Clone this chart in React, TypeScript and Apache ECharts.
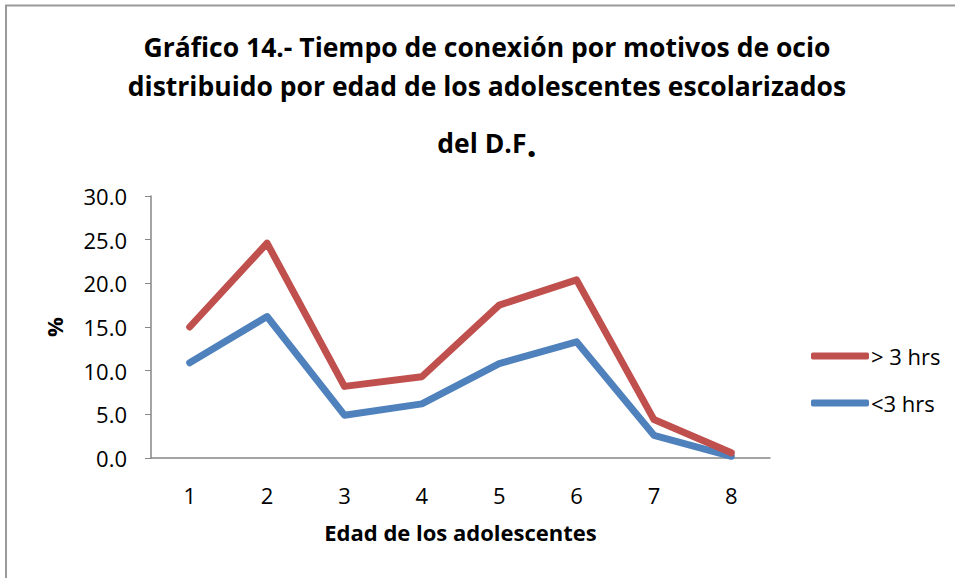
import React, { useEffect, useRef } from "react";
import * as echarts from "echarts";

const categories = ["1", "2", "3", "4", "5", "6", "7", "8"];
const seriesNames = ["> 3 hrs", "<3 hrs"];
const moreThan3 = [15.0, 24.6, 8.2, 9.3, 17.5, 20.4, 4.4, 0.6];
const lessThan3 = [10.9, 16.2, 4.9, 6.2, 10.8, 13.3, 2.6, 0.2];
const titleLines = [
  "Gráfico 14.- Tiempo de conexión por motivos de ocio",
  "distribuido por edad de los adolescentes escolarizados",
];
const xAxisName = "Edad de los adolescentes";
const yAxisName = "%";

const FONT = "'Open Sans', sans-serif";
const RED = "#C0504D";
const BLUE = "#4F81BD";
const AXIS = "#868686";
const TITLE_SIZE = 26.5;
const TICK_SIZE = 22;
const NAME_SIZE = 22;

export default function App() {
  const ref = useRef<HTMLDivElement>(null);
  useEffect(() => {
    if (!ref.current) return;
    const chart = echarts.init(ref.current, undefined, { renderer: "svg" });
    chart.setOption({
      animation: false,
      backgroundColor: "#ffffff",
      textStyle: { fontFamily: FONT },
      graphic: [
        {
          type: "rect",
          shape: { x: 6, y: 5.5, width: 1200, height: 800 },
          style: { fill: "none", stroke: "#9a9a9a", lineWidth: 2 },
          silent: true,
        },
        {
          type: "text",
          x: 487,
          y: 47,
          style: {
            text: titleLines[0],
            fontFamily: FONT,
            fontWeight: "bold",
            fontSize: TITLE_SIZE,
            fill: "#000",
            align: "center",
            verticalAlign: "middle",
          },
        },
        {
          type: "text",
          x: 487,
          y: 86,
          style: {
            text: titleLines[1],
            fontFamily: FONT,
            fontWeight: "bold",
            fontSize: TITLE_SIZE,
            fill: "#000",
            align: "center",
            verticalAlign: "middle",
          },
        },
        {
          type: "text",
          x: 487,
          y: 143,
          style: {
            text: "{a|del D.F}{b|.}",
            fontFamily: FONT,
            align: "center",
            verticalAlign: "middle",
            rich: {
              a: { fontFamily: FONT, fontWeight: "bold", fontSize: TITLE_SIZE, fill: "#000" },
              b: { fontFamily: FONT, fontWeight: "bold", fontSize: 36, fill: "#000" },
            },
          },
        },
      ],
      legend: {
        orient: "vertical",
        left: 806,
        top: 339,
        itemWidth: 58,
        itemHeight: 7,
        itemGap: 23,
        icon: "roundRect",
        textStyle: { fontFamily: FONT, fontSize: NAME_SIZE, color: "#000", padding: [0, 0, 0, -3], lineHeight: 24 },
        data: seriesNames,
      },
      grid: { left: 151, top: 196, right: 185, bottom: 120, containLabel: false },
      xAxis: {
        type: "category",
        data: categories,
        boundaryGap: true,
        axisLine: { lineStyle: { color: AXIS, width: 1.5 } },
        axisTick: { show: false },
        axisLabel: { fontFamily: FONT, fontSize: TICK_SIZE, color: "#000", margin: 26 },
        name: xAxisName,
        nameLocation: "middle",
        nameGap: 63,
        nameTextStyle: { fontFamily: FONT, fontSize: NAME_SIZE, fontWeight: "bold", color: "#000" },
      },
      yAxis: {
        type: "value",
        min: 0,
        max: 30,
        interval: 5,
        axisLine: { show: true, lineStyle: { color: AXIS, width: 1.5 } },
        axisTick: { show: true, length: 6, lineStyle: { color: AXIS } },
        splitLine: { show: false },
        axisLabel: {
          fontFamily: FONT,
          fontSize: TICK_SIZE,
          color: "#000",
          margin: 24,
          formatter: (v: number) => v.toFixed(1),
        },
        name: yAxisName,
        nameLocation: "middle",
        nameGap: 86,
        nameRotate: 90,
        nameTextStyle: { fontFamily: FONT, fontSize: NAME_SIZE, fontWeight: "bold", color: "#000" },
      },
      series: [
        {
          name: seriesNames[1],
          type: "line",
          data: lessThan3,
          showSymbol: false,
          symbol: "none",
          color: BLUE,
          lineStyle: { color: BLUE, width: 7, cap: "round", join: "round" },
          z: 2,
        },
        {
          name: seriesNames[0],
          type: "line",
          data: moreThan3,
          showSymbol: false,
          symbol: "none",
          color: RED,
          lineStyle: { color: RED, width: 7, cap: "round", join: "round" },
          z: 3,
        },
      ],
    });
    return () => chart.dispose();
  }, []);
  return (
    <div
      ref={ref}
      style={{ position: "absolute", left: 0, top: 0, width: 955, height: 578 }}
    />
  );
}
